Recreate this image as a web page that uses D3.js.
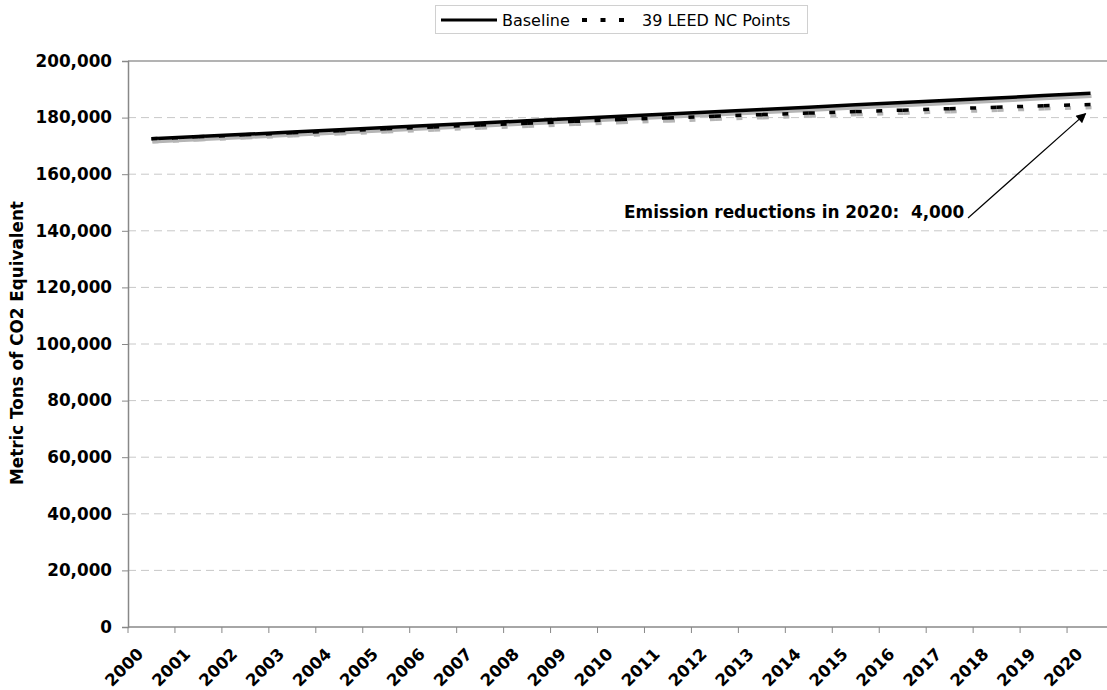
<!DOCTYPE html>
<html>
<head>
<meta charset="utf-8">
<script src="https://cdn.jsdelivr.net/npm/d3@7"></script>
<style>
  body { margin: 0; background: #fff; }
  svg { font-family: Verdana, "DejaVu Sans", sans-serif; display: block; }
</style>
</head>
<body>
<div id="chart"></div>
<script>
const years = ["2000","2001","2002","2003","2004","2005","2006","2007","2008","2009","2010",
               "2011","2012","2013","2014","2015","2016","2017","2018","2019","2020"];
const baseline = [172500,173300,174100,174900,175700,176500,177300,178100,178900,179700,180500,
                  181300,182100,182900,183700,184500,185300,186100,186900,187800,188600];
const leed = [172500,173220,173930,174640,175340,176040,176720,177380,178030,178670,179300,
              179900,180480,181050,181600,182120,182640,183150,183650,184200,184600];
const yTicks = [0,20000,40000,60000,80000,100000,120000,140000,160000,180000,200000];
const seriesNames = ["Baseline", "39 LEED NC Points"];
const noteText = "Emission reductions in 2020:  4,000";

const W = 1107, H = 690;
const margin = { top: 61, left: 128 };
const plotW = 986, plotH = 566;

const svg = d3.select("#chart").append("svg")
    .attr("width", W).attr("height", H);

const g = svg.append("g")
    .attr("transform", `translate(${margin.left},${margin.top})`);

const x = d3.scaleBand().domain(years).range([0, plotW]).padding(0);
const y = d3.scaleLinear().domain([0, 200000]).range([plotH, 0]);
const cx = d => x(d) + x.bandwidth() / 2;

// gridlines
g.selectAll(".grid").data(yTicks.filter(v => v > 0))
    .enter().append("line")
    .attr("x1", 0).attr("x2", plotW)
    .attr("y1", d => y(d)).attr("y2", d => y(d))
    .attr("stroke", d => d === 200000 ? "#9a9a9a" : "#c8c8c8")
    .attr("stroke-width", d => d === 200000 ? 1.5 : 1)
    .attr("stroke-dasharray", d => d === 200000 ? null : "8,5");

// y axis
const yAxis = g.append("g")
    .call(d3.axisLeft(y).tickValues(yTicks).tickFormat(d3.format(",")).tickSize(6).tickPadding(10));
yAxis.select(".domain").attr("stroke", "#888").attr("stroke-width", 1.5);
yAxis.selectAll(".tick line").attr("stroke", "#888");
yAxis.selectAll("text")
    .attr("fill", "#000")
    .style("font-family", "Verdana, 'DejaVu Sans', sans-serif")
    .style("font-size", "16.8px").style("font-weight", "bold");

// x axis: ticks at category boundaries, labels at centres
g.append("line")
    .attr("x1", 0).attr("x2", plotW).attr("y1", plotH).attr("y2", plotH)
    .attr("stroke", "#888").attr("stroke-width", 1.5);
g.selectAll(".xtick").data(years.concat(["end"]))
    .enter().append("line")
    .attr("x1", (d, i) => i < years.length ? x(d) : plotW)
    .attr("x2", (d, i) => i < years.length ? x(d) : plotW)
    .attr("y1", plotH).attr("y2", plotH + 6)
    .attr("stroke", "#888");
g.selectAll(".xlab").data(years)
    .enter().append("text")
    .attr("transform", d => `translate(${cx(d) - 7},${plotH + 28}) rotate(-45)`)
    .attr("text-anchor", "end")
    .style("font-size", "16.5px").style("font-weight", "bold")
    .text(d => d);

// y axis title
svg.append("text")
    .attr("transform", `translate(23,${margin.top + plotH / 2 - 1}) rotate(-90)`)
    .attr("text-anchor", "middle")
    .style("font-size", "16.8px").style("font-weight", "bold")
    .text("Metric Tons of CO2 Equivalent");

const line = d3.line().x((d, i) => cx(years[i])).y(d => y(d));

// baseline with shadow
g.append("path").datum(baseline)
    .attr("d", line).attr("fill", "none")
    .attr("stroke", "#b5b5b5").attr("stroke-width", 3.5)
    .attr("transform", "translate(1,3)");
g.append("path").datum(baseline)
    .attr("d", line).attr("fill", "none")
    .attr("stroke", "#000").attr("stroke-width", 3.5);

// LEED series: dash pattern restarts on each segment
const segs = leed.slice(1).map((v, i) => [leed[i], v, i]);
[["#b5b5b5", "translate(1,3)"], ["#000", null]].forEach(([col, tr]) => {
    g.append("g").attr("transform", tr).selectAll("line").data(segs)
        .enter().append("line")
        .attr("x1", d => cx(years[d[2]])).attr("y1", d => y(d[0]))
        .attr("x2", d => cx(years[d[2] + 1])).attr("y2", d => y(d[1]))
        .attr("stroke", col).attr("stroke-width", 3.5)
        .attr("stroke-dasharray", "6,14.5");
});

// annotation
svg.append("text")
    .attr("x", 624).attr("y", 218)
    .attr("xml:space", "preserve")
    .style("white-space", "pre")
    .style("font-size", "16.9px").style("font-weight", "bold")
    .text(noteText);
svg.append("defs").append("marker")
    .attr("id", "arr").attr("viewBox", "0 0 10 10")
    .attr("refX", 9).attr("refY", 5)
    .attr("markerWidth", 14).attr("markerHeight", 10)
    .attr("markerUnits", "userSpaceOnUse")
    .attr("orient", "auto")
    .append("path").attr("d", "M0,0 L10,5 L0,10 z").attr("fill", "#000");
g.append("line")
    .attr("x1", 968 - margin.left).attr("y1", 218 - margin.top)
    .attr("x2", cx("2020") - 5).attr("y2", y(leed[20]) + 9)
    .attr("stroke", "#000").attr("stroke-width", 1.2)
    .attr("marker-end", "url(#arr)");

// legend
const lg = svg.append("g");
lg.append("rect")
    .attr("x", 435.5).attr("y", 5.5).attr("width", 372).attr("height", 28)
    .attr("fill", "#fff").attr("stroke", "#d0d0d0");
lg.append("line")
    .attr("x1", 441).attr("x2", 497).attr("y1", 20).attr("y2", 20)
    .attr("stroke", "#000").attr("stroke-width", 3);
lg.append("text").attr("x", 502).attr("y", 26)
    .style("font-size", "16px").text(seriesNames[0]);
lg.append("line")
    .attr("x1", 582).attr("x2", 626).attr("y1", 20).attr("y2", 20)
    .attr("stroke", "#000").attr("stroke-width", 4)
    .attr("stroke-dasharray", "5,13.5");
lg.append("text").attr("x", 642).attr("y", 26)
    .style("font-size", "16px").text(seriesNames[1]);
</script>
</body>
</html>
